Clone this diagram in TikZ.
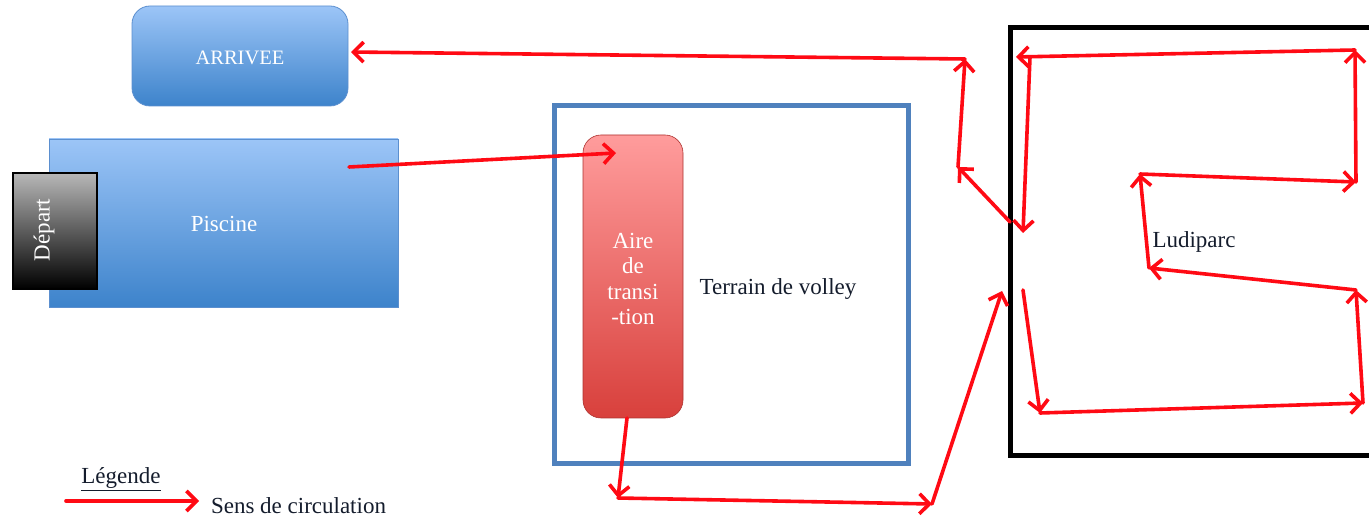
\documentclass[tikz,border=0pt]{standalone}
\usepackage{fontspec}
\setmainfont{Liberation Serif}
\usetikzlibrary{arrows.meta}
\definecolor{flowred}{HTML}{FF0A14}
\definecolor{blueTop}{HTML}{9CC5F7}
\definecolor{blueBot}{HTML}{3D83CB}
\definecolor{blueEdge}{HTML}{5B8FCF}
\definecolor{pinkTop}{HTML}{FF9C9C}
\definecolor{pinkBot}{HTML}{D8403C}
\definecolor{volleyBlue}{HTML}{4F81BD}
\definecolor{inkText}{HTML}{141C2C}
\begin{document}
\begin{tikzpicture}[x=1pt,y=-1pt,
  every node/.style={inner sep=0pt, outer sep=0pt},
  txt/.style={font=\fontsize{23}{25.5}\selectfont, text=inkText},
  whitetxt/.style={font=\fontsize{23}{25.5}\selectfont, text=white},
  bluebox/.style={draw=blueEdge, line width=0.8pt, top color=blueTop, bottom color=blueBot},
  flow/.style={draw=flowred, line width=3.6pt, line cap=round, -{Straight Barb[length=10pt,width=20pt]}}
]
\useasboundingbox (0,0) rectangle (1369,518);
\clip (0,0) rectangle (1369,518);

% Boxes
\node[bluebox, rounded corners=18pt, minimum width=216pt, minimum height=100pt] (arrivee) at (240,56) {};
\node[font=\fontsize{20.5}{24}\selectfont, text=white] (arriveeT) at (240,58) {ARRIVEE};

\node[bluebox, minimum width=349pt, minimum height=168pt] (piscine) at (223.5,223) {};
\node[whitetxt] (piscineT) at (224,224) {Piscine};

\node[draw=black, line width=1.5pt, top color=black!28, bottom color=black, minimum width=84pt, minimum height=116pt] (depart) at (55,231) {};
\node[whitetxt, rotate=90] (departT) at (44,230) {Départ};

\node[draw=volleyBlue, line width=4.5pt, minimum width=354pt, minimum height=358pt] (terrain) at (731.5,284.5) {};
\node[txt] (terrainT) at (778,289) {Terrain de volley};

\node[draw=pinkBot!80!black, line width=0.6pt, rounded corners=18pt, top color=pinkTop, bottom color=pinkBot, minimum width=100pt, minimum height=283pt] (aire) at (633,276.5) {};
\node[whitetxt, align=center] (aireT) at (633,279) {Aire\\de\\transi\\-tion};

\draw[black, line width=5pt] (1400,27.5) -- (1010,27.5) -- (1010,456) -- (1400,456);
\node[txt] (ludiT) at (1194,242) {Ludiparc};

% Path coordinates
\coordinate (a0) at (349,167);
\coordinate (a1) at (616,153);
\coordinate (a2s) at (627,418);
\coordinate (a2) at (618,498);
\coordinate (a3) at (932,504);
\coordinate (a4) at (1002,291);
\coordinate (a5s) at (1010,222);
\coordinate (a5) at (958,167);
\coordinate (a6) at (965,59);
\coordinate (a7) at (351,52);

\coordinate (b0) at (1023,290);
\coordinate (b1) at (1040,413);
\coordinate (b2) at (1363,403);
\coordinate (b3) at (1356,290);
\coordinate (b4) at (1149,268);
\coordinate (b5) at (1140,174);
\coordinate (b6) at (1356,182);
\coordinate (b7) at (1355,50);
\coordinate (b8) at (1016,57);
\coordinate (b8s) at (1030,57);
\coordinate (b9) at (1023,233);

% Arrows outside
\draw[flow] (a0) -- (a1);
\draw[flow] (a2s) -- (a2);
\draw[flow] (a2) -- (a3);
\draw[flow] (a3) -- (a4);
\draw[flow] (a5s) -- (a5);
\draw[flow] (a5) -- (a6);
\draw[flow] (a6) -- (a7);

% Arrows in Ludiparc
\draw[flow] (b0) -- (b1);
\draw[flow] (b1) -- (b2);
\draw[flow] (b2) -- (b3);
\draw[flow] (b3) -- (b4);
\draw[flow] (b4) -- (b5);
\draw[flow] (b5) -- (b6);
\draw[flow] (b6) -- (b7);
\draw[flow] (b7) -- (b8);
\draw[flow] (b8s) -- (b9);

% Legend
\node[txt] (legT) at (121,479) {\underline{Légende}};
\coordinate (l0) at (66,501);
\coordinate (l1) at (199,501);
\draw[flow] (l0) -- (l1);
\node[txt, anchor=west] (sensT) at (211,506) {Sens de circulation};
\end{tikzpicture}
\end{document}
